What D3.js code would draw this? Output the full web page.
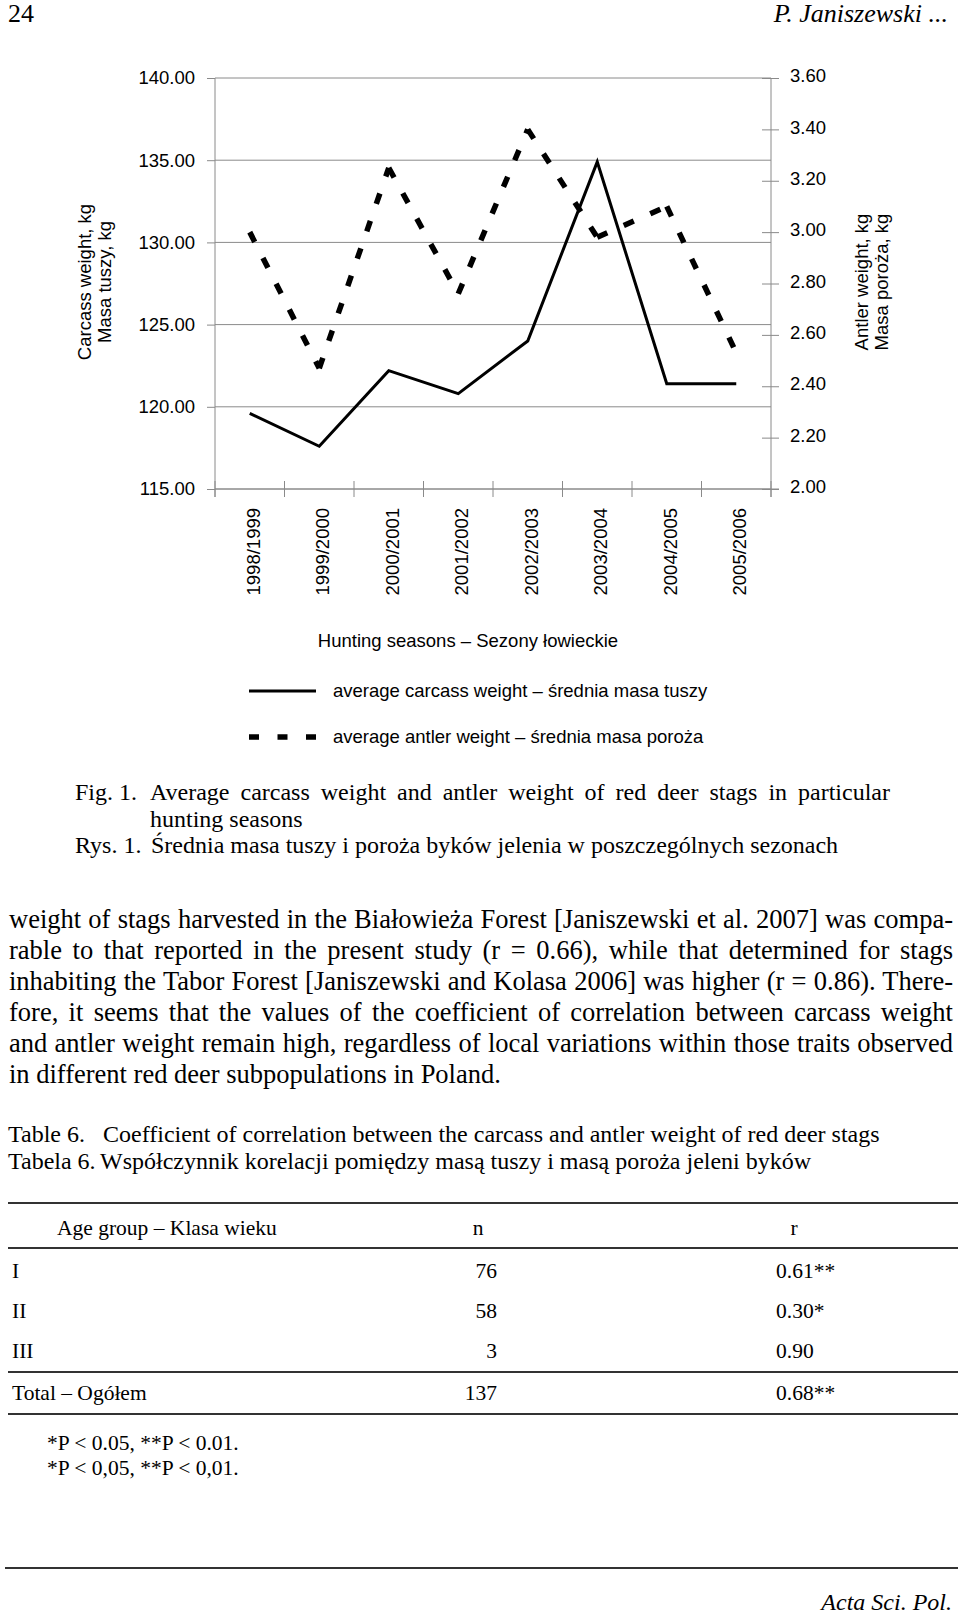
<!DOCTYPE html>
<html>
<head>
<meta charset="utf-8">
<script src="https://cdn.jsdelivr.net/npm/d3@7"></script>
<style>
  html, body { margin: 0; padding: 0; background: #fff; }
  svg { display: block; }
</style>
</head>
<body>
<svg id="page" width="960" height="1615"></svg>
<script>
// ---------- DATA ----------
const seasons = ["1998/1999", "1999/2000", "2000/2001", "2001/2002", "2002/2003", "2003/2004", "2004/2005", "2005/2006"];
const carcassWeight = [119.6, 117.6, 122.2, 120.8, 124.0, 134.9, 121.4, 121.4];
const antlerWeight = [3.00, 2.47, 3.25, 2.76, 3.40, 2.98, 3.10, 2.53];
const leftTicks = [115, 120, 125, 130, 135, 140];
const rightTicks = [2.0, 2.2, 2.4, 2.6, 2.8, 3.0, 3.2, 3.4, 3.6];

const ageGroups = ["I", "II", "III"];
const nValues = [76, 58, 3];
const rValues = ["0.61**", "0.30*", "0.90"];
const totalLabel = "Total – Ogółem";
const totalN = 137;
const totalR = "0.68**";

const bodyLines = [
  "weight of stags harvested in the Białowieża Forest [Janiszewski et al. 2007] was compa-",
  "rable to that reported in the present study (r = 0.66), while that determined for stags",
  "inhabiting the Tabor Forest [Janiszewski and Kolasa 2006] was higher (r = 0.86). There-",
  "fore, it seems that the values of the coefficient of correlation between carcass weight",
  "and antler weight remain high, regardless of local variations within those traits observed",
  "in different red deer subpopulations in Poland."
];

// ---------- SETUP ----------
const SANS = "'Liberation Sans', Arial, Helvetica, sans-serif";
const SERIF = "'Liberation Serif', 'Times New Roman', serif";
const svg = d3.select("#page");
svg.append("rect").attr("width", 960).attr("height", 1615).attr("fill", "#fff");

const plot = { left: 215, right: 771, top: 78, bottom: 489 };
const x = d3.scaleBand().domain(seasons).range([plot.left, plot.right]);
const yL = d3.scaleLinear().domain([115, 140]).range([plot.bottom, plot.top]);
const yR = d3.scaleLinear().domain([2.0, 3.6]).range([plot.bottom, plot.top]);
const axisColor = "#8a8a8a";

const chart = svg.append("g").attr("font-family", SANS).attr("font-size", 18.5).attr("fill", "#000");

// gridlines
chart.append("g").selectAll("line").data(leftTicks).join("line")
  .attr("x1", plot.left).attr("x2", plot.right)
  .attr("y1", d => yL(d)).attr("y2", d => yL(d))
  .attr("stroke", axisColor).attr("stroke-width", 1);

// left axis
const gL = chart.append("g").attr("transform", `translate(${plot.left},0)`)
  .call(d3.axisLeft(yL).tickValues(leftTicks).tickFormat(d3.format(".2f")).tickSize(8).tickPadding(12));
gL.select(".domain").remove();
gL.selectAll("line").attr("stroke", axisColor);
gL.selectAll("text").attr("font-family", SANS).attr("font-size", 18.5).attr("fill", "#000");
chart.append("line").attr("x1", plot.left).attr("x2", plot.left)
  .attr("y1", plot.top).attr("y2", plot.bottom + 8).attr("stroke", axisColor);

// right axis
const gR = chart.append("g").attr("transform", `translate(${plot.right},0)`)
  .call(d3.axisRight(yR).tickValues(rightTicks).tickFormat(d3.format(".2f")).tickSize(8).tickPadding(11));
gR.select(".domain").remove();
gR.selectAll(".tick line").attr("x1", -9).attr("x2", 8).attr("stroke", axisColor);
gR.selectAll("text").attr("font-family", SANS).attr("font-size", 18.5).attr("fill", "#000").attr("dy", "0.2em");
chart.append("line").attr("x1", plot.right).attr("x2", plot.right)
  .attr("y1", plot.top).attr("y2", plot.bottom + 8).attr("stroke", axisColor);

// x axis
chart.append("line").attr("x1", plot.left).attr("x2", plot.right + 8)
  .attr("y1", plot.bottom).attr("y2", plot.bottom).attr("stroke", axisColor);
const bounds = seasons.map(s => x(s)).concat([x.range()[1]]);
chart.append("g").selectAll("line").data(bounds).join("line")
  .attr("x1", d => d).attr("x2", d => d)
  .attr("y1", plot.bottom - 8).attr("y2", plot.bottom + 8)
  .attr("stroke", axisColor);
chart.append("g").selectAll("text").data(seasons).join("text")
  .attr("transform", d => `translate(${x(d) + x.bandwidth() / 2 + 3.5},${plot.bottom + 19}) rotate(-90)`)
  .attr("text-anchor", "end").attr("dy", "0.35em")
  .text(d => d);

// axis titles
const leftTitle = chart.append("g").attr("text-anchor", "middle");
leftTitle.append("text").attr("transform", "translate(85,282) rotate(-90)").attr("dy", "0.35em").text("Carcass weight, kg");
leftTitle.append("text").attr("transform", "translate(105,282) rotate(-90)").attr("dy", "0.35em").text("Masa tuszy, kg");
const rightTitle = chart.append("g").attr("text-anchor", "middle");
rightTitle.append("text").attr("transform", "translate(862,282) rotate(-90)").attr("dy", "0.35em").text("Antler weight, kg");
rightTitle.append("text").attr("transform", "translate(882,282) rotate(-90)").attr("dy", "0.35em").text("Masa poroża, kg");

// lines
const cx = i => x(seasons[i]) + x.bandwidth() / 2;
const lineL = d3.line().x((d, i) => cx(i)).y(d => yL(d));
chart.append("path").datum(carcassWeight).attr("d", lineL)
  .attr("fill", "none").attr("stroke", "#000").attr("stroke-width", 3).attr("stroke-linejoin", "miter");
// dashed antler line: dash pattern restarts on each segment
const antlerSegments = d3.pairs(antlerWeight.map((v, i) => [cx(i), yR(v)]));
chart.append("g").selectAll("path").data(antlerSegments).join("path")
  .attr("d", d => d3.line()(d))
  .attr("fill", "none").attr("stroke", "#000").attr("stroke-width", 5.5).attr("stroke-dasharray", "11,18");

// x title and legend
chart.append("text").attr("x", 468).attr("y", 641).attr("dy", "0.35em").attr("text-anchor", "middle")
  .text("Hunting seasons – Sezony łowieckie");
chart.append("line").attr("x1", 249).attr("x2", 316).attr("y1", 691).attr("y2", 691)
  .attr("stroke", "#000").attr("stroke-width", 3);
chart.append("text").attr("x", 333).attr("y", 691).attr("dy", "0.35em").text("average carcass weight – średnia masa tuszy");
chart.append("line").attr("x1", 249).attr("x2", 316).attr("y1", 737).attr("y2", 737)
  .attr("stroke", "#000").attr("stroke-width", 5.5).attr("stroke-dasharray", "10,18.5");
chart.append("text").attr("x", 333).attr("y", 737).attr("dy", "0.35em").text("average antler weight – średnia masa poroża");

// ---------- PAGE TEXT ----------
const page = svg.append("g").attr("font-family", SERIF).attr("fill", "#000");

function justify(sel, target) {
  const node = sel.node();
  const natural = node.getComputedTextLength();
  const spaces = (sel.text().match(/ /g) || []).length;
  if (spaces > 0) sel.attr("word-spacing", (target - natural) / spaces);
}

// header
page.append("text").attr("x", 8).attr("y", 22).attr("font-size", 26).text("24");
page.append("text").attr("x", 948).attr("y", 22).attr("font-size", 26).attr("font-style", "italic")
  .attr("text-anchor", "end").text("P. Janiszewski ...");

// caption
page.append("text").attr("x", 75).attr("y", 800).attr("font-size", 24).text("Fig. 1.");
const cap1 = page.append("text").attr("x", 150).attr("y", 800).attr("font-size", 24)
  .text("Average carcass weight and antler weight of red deer stags in particular");
justify(cap1, 890 - 150);
page.append("text").attr("x", 150).attr("y", 827).attr("font-size", 24).text("hunting seasons");
page.append("text").attr("x", 75).attr("y", 853).attr("font-size", 24).text("Rys. 1.");
page.append("text").attr("x", 151).attr("y", 853).attr("font-size", 24)
  .text("Średnia masa tuszy i poroża byków jelenia w poszczególnych sezonach");

// body paragraph
bodyLines.forEach((ln, i) => {
  const t = page.append("text").attr("x", 9).attr("y", 928 + i * 30.9).attr("font-size", 26.5).text(ln);
  if (i < bodyLines.length - 1) justify(t, 953 - 9);
});

// table titles
page.append("text").attr("x", 8).attr("y", 1142).attr("font-size", 24).text("Table 6.");
page.append("text").attr("x", 103).attr("y", 1142).attr("font-size", 24)
  .text("Coefficient of correlation between the carcass and antler weight of red deer stags");
page.append("text").attr("x", 8).attr("y", 1169).attr("font-size", 24).text("Tabela 6.");
page.append("text").attr("x", 100).attr("y", 1169).attr("font-size", 24)
  .text("Współczynnik korelacji pomiędzy masą tuszy i masą poroża jeleni byków");

// table rules
const rules = [1203, 1248, 1372, 1414];
page.append("g").selectAll("line").data(rules).join("line")
  .attr("x1", 8).attr("x2", 958).attr("y1", d => d).attr("y2", d => d)
  .attr("stroke", "#333").attr("stroke-width", 2);

// table header
const tfs = 21.5;
page.append("text").attr("x", 57).attr("y", 1235).attr("font-size", tfs).text("Age group – Klasa wieku");
page.append("text").attr("x", 478).attr("y", 1235).attr("font-size", tfs).attr("text-anchor", "middle").text("n");
page.append("text").attr("x", 794).attr("y", 1235).attr("font-size", tfs).attr("text-anchor", "middle").text("r");

const rowY = [1278, 1318, 1358];
ageGroups.forEach((g, i) => {
  page.append("text").attr("x", 12).attr("y", rowY[i]).attr("font-size", tfs).text(g);
  page.append("text").attr("x", 497).attr("y", rowY[i]).attr("font-size", tfs).attr("text-anchor", "end").text(nValues[i]);
  page.append("text").attr("x", 776).attr("y", rowY[i]).attr("font-size", tfs).text(rValues[i]);
});
page.append("text").attr("x", 12).attr("y", 1400).attr("font-size", tfs).text(totalLabel);
page.append("text").attr("x", 497).attr("y", 1400).attr("font-size", tfs).attr("text-anchor", "end").text(totalN);
page.append("text").attr("x", 776).attr("y", 1400).attr("font-size", tfs).text(totalR);

// footnotes
page.append("text").attr("x", 47).attr("y", 1450).attr("font-size", 21.5).text("*P < 0.05, **P < 0.01.");
page.append("text").attr("x", 47).attr("y", 1475).attr("font-size", 21.5).text("*P < 0,05, **P < 0,01.");

// footer
page.append("line").attr("x1", 5).attr("x2", 958).attr("y1", 1568).attr("y2", 1568)
  .attr("stroke", "#333").attr("stroke-width", 2);
page.append("text").attr("x", 952).attr("y", 1610).attr("font-size", 24).attr("font-style", "italic")
  .attr("text-anchor", "end").text("Acta Sci. Pol.");
</script>
</body>
</html>
